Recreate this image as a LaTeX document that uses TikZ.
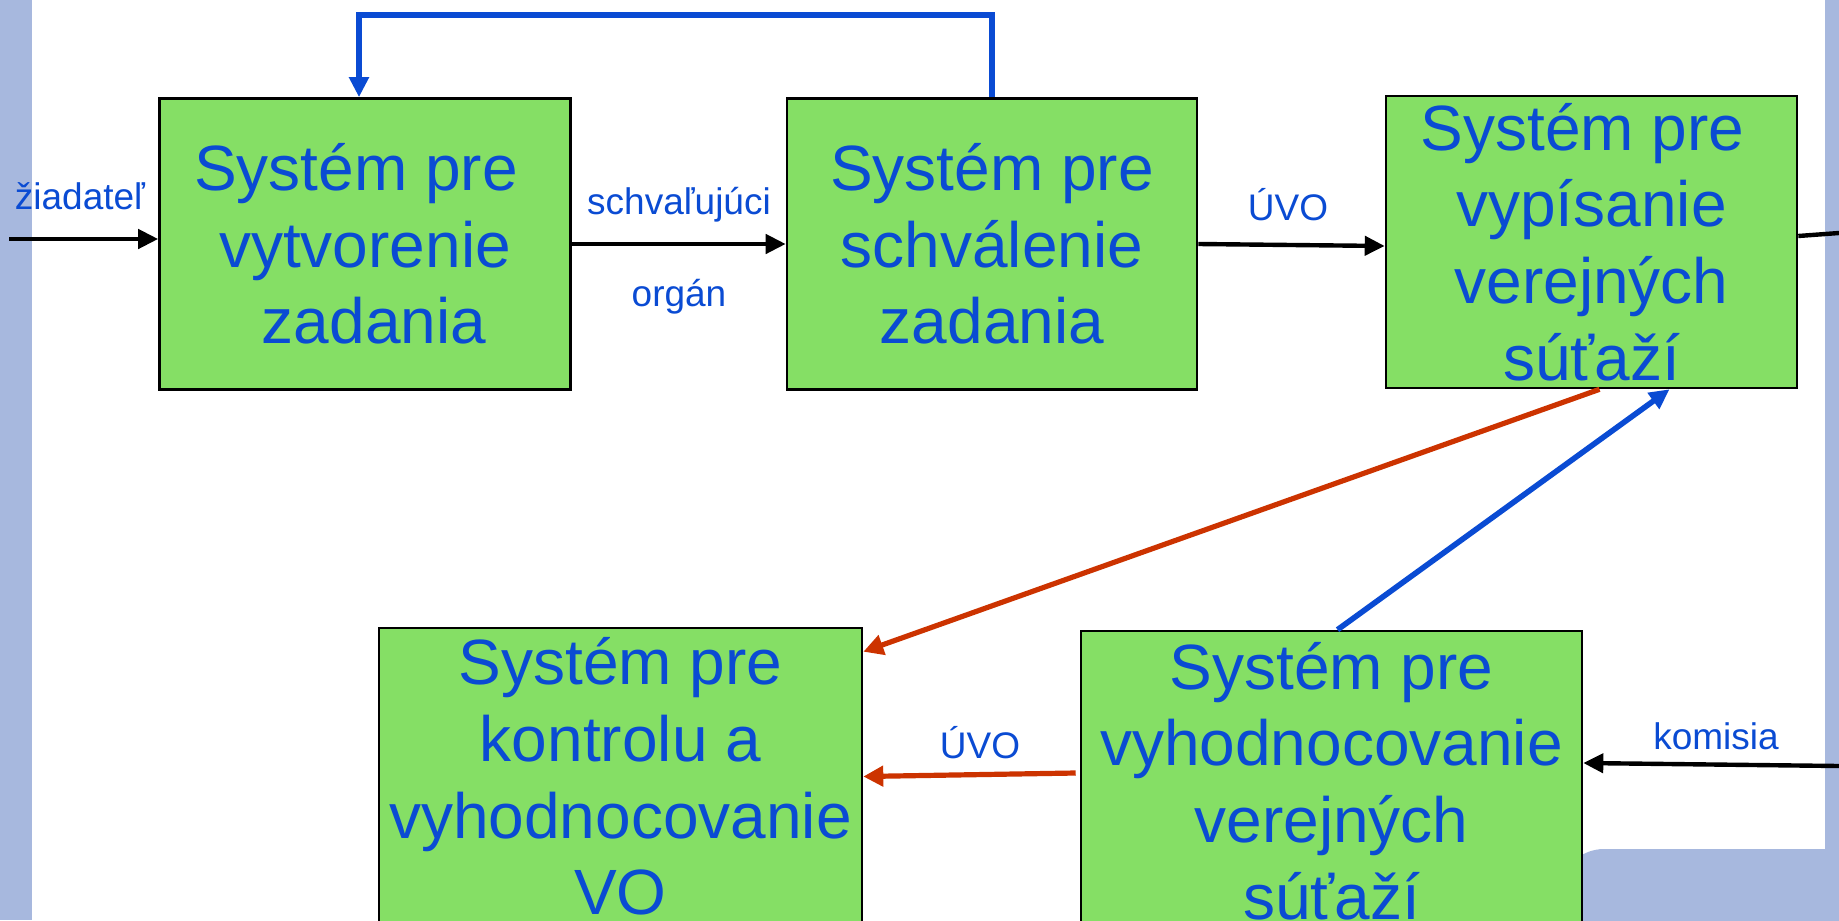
\documentclass[tikz,border=0pt]{standalone}
\usepackage{fontspec}
\setmainfont{Liberation Sans}
\usetikzlibrary{arrows.meta}

\definecolor{SysGreen}{HTML}{85DF65}
\definecolor{TextBlue}{HTML}{0A4BD3}
\definecolor{ArrowRed}{HTML}{CC3300}
\definecolor{SlideBlue}{HTML}{A7B8DE}
\newcommand{\tsp}{\hspace*{.28em}}

\tikzset{
Sys/.style={draw=black, fill=SysGreen, rectangle, inner
        sep=0pt, align=center, line width=1.3pt, text=TextBlue, font=\fontsize{32}{38.3}\selectfont},
FlowLine/.style={arrows={-Triangle[length=10pt,width=9.5pt]},draw=black,line width=2.2pt},
FeedLine/.style={arrows={-Triangle[length=10pt,width=9.5pt]},draw=TextBlue,line width=2.8pt},
BackLine/.style={arrows={-Triangle[length=10pt,width=10pt]},draw=ArrowRed,line width=2.6pt},
FlowTitle/.style={text=TextBlue, font=\fontsize{18.5}{22}\selectfont, inner sep=0pt},
}

\begin{document}
\begin{tikzpicture}[x=0.5pt,y=-0.5pt]
	\clip (0,0) rectangle (1839,920);
	% slide background
	\fill[SlideBlue] (0,0) rectangle (32,920);
	\fill[SlideBlue] (1825,0) rectangle (1839,920);
	\fill[SlideBlue, rounded corners=22pt] (1560,849) rectangle (1900,1000);

	\node[Sys, minimum width=205.5pt, minimum height=145.5pt] (b1) at (365,244) {Systém pre\tsp\\vytvorenie\\\tsp zadania};
	\node[Sys, minimum width=205pt, minimum height=145.5pt] (b2) at (992,244) {Systém pre\\schválenie\\zadania};
	\node[Sys, minimum width=205.5pt, minimum height=146pt] (b3) at (1591.5,242) {Systém pre\tsp\\vypísanie\\verejných\\súťaží};
	\node[Sys, minimum width=241.5pt, minimum height=148.5pt] (b4) at (620.5,776.5) {Systém pre\\kontrolu a\tsp\\vyhodnocovanie\\VO};
	\node[Sys, minimum width=250.5pt, minimum height=150pt] (b5) at (1331.5,781) {Systém pre\\vyhodnocovanie\\verejných\\súťaží};

	\coordinate (zia) at (9,239);
	\coordinate (vyp) at (1839,233);
	\coordinate (kom) at (1839,766);
	\draw[FlowLine] (zia) -- ([yshift=2.5pt]b1.west);
	\draw[FlowLine] (b1.east) -- (b2.west);
	\draw[FlowLine] (b2.east) -- ([yshift=-2pt]b3.west);
	\draw[draw=black,line width=2.2pt] ([yshift=3pt]b3.east) -- (vyp);
	\draw[FeedLine] (b2.north) -- ++(0,-82) -| ([xshift=-3pt]b1.north);
	\draw[BackLine] ([xshift=4pt]b3.south) -- ([yshift=-12.5pt]b4.north east);
	\draw[FeedLine] ([xshift=3pt]b5.north) -- ([xshift=39pt]b3.south);
	\draw[BackLine] ([xshift=-2pt,yshift=4pt]b5.west) -- (b4.east);
	\draw[FlowLine] (kom) -- ([yshift=9pt]b5.east);

	\node[FlowTitle] (zia-t) at (80,196) {žiadateľ};
	\node[FlowTitle] (sch-t) at (679,205) {schvaľujúci};
	\node[FlowTitle] (org-t) at (679,297) {orgán};
	\node[FlowTitle] (uvo-t) at (1288,205) {ÚVO};
	\node[FlowTitle] (uvo2-t) at (980,743) {ÚVO};
	\node[FlowTitle] (kom-t) at (1716,736) {komisia};
\end{tikzpicture}
\end{document}
